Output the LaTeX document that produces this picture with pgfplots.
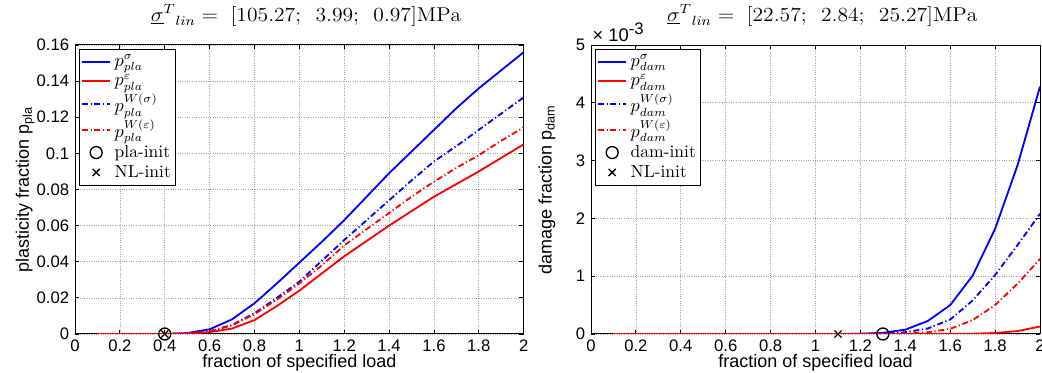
\documentclass[border=0pt]{standalone}
\usepackage{fontspec}
\setsansfont{Liberation Sans}
\usepackage{graphicx}
\usepackage{pgfplots}
\pgfplotsset{compat=1.18}
\definecolor{mblue}{RGB}{0,0,255}
\definecolor{mred}{RGB}{255,0,0}
\pgfplotsset{
  mstyle/.style={
    scale only axis, width=269.2pt, height=173.4pt,
    xmin=0, xmax=2,
    xtick={0,0.2,0.4,0.6,0.8,1,1.2,1.4,1.6,1.8,2},
    grid=major,
    major grid style={densely dotted, gray!70, line width=0.4pt},
    tick align=inside, major tick length=2.6pt,
    tick style={black, line width=0.5pt},
    axis line style={line width=0.6pt},
    clip mode=individual,
    /pgf/number format/assume math mode=true,
    tick label style={font=\sffamily\fontsize{10}{11}\selectfont},
    label style={font=\sffamily\fontsize{10.8}{12}\selectfont},
    xlabel style={at={(axis description cs:0.5,-0.1)}, anchor=center},
    title style={at={(axis description cs:0.515,1.048)}, anchor=base, yshift=0pt, font=\fontsize{12}{14}\selectfont},
    scaled y ticks=false,
    legend style={at={(axis description cs:0.009,0.986)}, anchor=north west,
      font=\fontsize{10.5}{11}\selectfont, draw=black,
      inner xsep=1pt, inner ysep=1.2pt, row sep=-0.8pt, cells={anchor=west}},
    legend cell align=left,
  },
  bs/.style={color=mblue, line width=1.1pt, solid},
  rs/.style={color=mred, line width=1.1pt, solid},
  bd/.style={color=mblue, line width=1.1pt, dash pattern=on 3.6pt off 1.6pt on 0.7pt off 1.6pt},
  rd/.style={color=mred, line width=1.1pt, dash pattern=on 3.6pt off 1.6pt on 0.7pt off 1.6pt},
}
\newcommand{\ttl}[3]{\scalebox{1.08}[1]{${\underline{\sigma}^{T}}_{lin} =\hspace{0.3em}[#1;\hspace{0.5em}#2;\hspace{0.5em}#3]\mathrm{MPa}$}}
\begin{document}
\begin{tikzpicture}
\useasboundingbox (-45pt,-23.4pt) rectangle (580.2pt,200.4pt);
\begin{axis}[mstyle,
  ymin=0, ymax=0.16,
  ytick={0,0.02,0.04,0.06,0.08,0.1,0.12,0.14,0.16},
  yticklabel style={/pgf/number format/fixed, /pgf/number format/precision=2},
  xlabel={fraction of specified load},
  ylabel={plasticity fraction p\textsubscript{pla}},
  ylabel style={at={(axis description cs:-0.111,0.5)}, anchor=center},
  title={\ttl{105.27}{3.99}{0.97}},
]
\addplot[bs] coordinates {(0.1,0)(0.2,0)(0.3,0)(0.4,0)(0.5,0.0005)(0.6,0.0026)(0.7,0.0081)(0.8,0.017)(0.9,0.028)(1.0,0.0395)(1.1,0.051)(1.2,0.063)(1.3,0.076)(1.4,0.089)(1.5,0.101)(1.6,0.113)(1.7,0.125)(1.8,0.136)(1.9,0.146)(2.0,0.156)};
\addlegendentry{$p_{pla}^{\sigma}$}
\addplot[rs] coordinates {(0.1,0)(0.2,0)(0.3,0)(0.4,0)(0.5,0.0002)(0.6,0.001)(0.7,0.003)(0.8,0.0077)(0.9,0.0155)(1.0,0.024)(1.1,0.0335)(1.2,0.043)(1.3,0.0515)(1.4,0.060)(1.5,0.068)(1.6,0.076)(1.7,0.083)(1.8,0.090)(1.9,0.0975)(2.0,0.105)};
\addlegendentry{$p_{pla}^{\varepsilon}$}
\addplot[bd] coordinates {(0.1,0)(0.2,0)(0.3,0)(0.4,0)(0.5,0.0003)(0.6,0.0015)(0.7,0.005)(0.8,0.0115)(0.9,0.020)(1.0,0.029)(1.1,0.0405)(1.2,0.052)(1.3,0.063)(1.4,0.074)(1.5,0.085)(1.6,0.0955)(1.7,0.104)(1.8,0.113)(1.9,0.122)(2.0,0.131)};
\addlegendentry{$p_{pla}^{W(\sigma)}$}
\addplot[rd] coordinates {(0.1,0)(0.2,0)(0.3,0)(0.4,0)(0.5,0.0003)(0.6,0.0014)(0.7,0.0048)(0.8,0.011)(0.9,0.019)(1.0,0.028)(1.1,0.038)(1.2,0.049)(1.3,0.058)(1.4,0.067)(1.5,0.076)(1.6,0.0843)(1.7,0.092)(1.8,0.099)(1.9,0.107)(2.0,0.1144)};
\addlegendentry{$p_{pla}^{W(\varepsilon)}$}
\addplot[only marks, mark=o, mark size=3.6pt, black, line width=0.8pt] coordinates {(0.4,0)};
\addlegendentry{pla-init}
\addplot[only marks, mark=x, mark size=3pt, black, line width=0.8pt] coordinates {(0.4,0)};
\addlegendentry{NL-init}
\end{axis}
\begin{axis}[mstyle, at={(309.6pt,0)}, width=269.4pt,
  ymin=0, ymax=5,
  ytick={0,1,2,3,4,5},
  xlabel={fraction of specified load},
  ylabel={damage fraction p\textsubscript{dam}},
  ylabel style={at={(axis description cs:-0.098,0.5)}, anchor=center},
  title={\ttl{22.57}{2.84}{25.27}},
]
\addplot[bs] coordinates {(0.1,0)(0.2,0)(0.3,0)(0.4,0)(0.5,0)(0.6,0)(0.7,0)(0.8,0)(0.9,0)(1.0,0)(1.1,0.001)(1.2,0.005)(1.3,0.02)(1.4,0.075)(1.5,0.225)(1.6,0.5)(1.7,1.01)(1.8,1.82)(1.9,2.92)(2.0,4.28)};
\addlegendentry{$p_{dam}^{\sigma}$}
\addplot[rs] coordinates {(0.1,0)(0.2,0)(0.3,0)(0.4,0)(0.5,0)(0.6,0)(0.7,0)(0.8,0)(0.9,0)(1.0,0)(1.1,0)(1.2,0)(1.3,0)(1.4,0)(1.5,0.001)(1.6,0.002)(1.7,0.005)(1.8,0.017)(1.9,0.05)(2.0,0.13)};
\addlegendentry{$p_{dam}^{\varepsilon}$}
\addplot[bd] coordinates {(0.1,0)(0.2,0)(0.3,0)(0.4,0)(0.5,0)(0.6,0)(0.7,0)(0.8,0)(0.9,0)(1.0,0)(1.1,0)(1.2,0.002)(1.3,0.008)(1.4,0.03)(1.5,0.095)(1.6,0.25)(1.7,0.58)(1.8,1.02)(1.9,1.54)(2.0,2.08)};
\addlegendentry{$p_{dam}^{W(\sigma)}$}
\addplot[rd] coordinates {(0.1,0)(0.2,0)(0.3,0)(0.4,0)(0.5,0)(0.6,0)(0.7,0)(0.8,0)(0.9,0)(1.0,0)(1.1,0)(1.2,0)(1.3,0.002)(1.4,0.006)(1.5,0.028)(1.6,0.09)(1.7,0.24)(1.8,0.50)(1.9,0.87)(2.0,1.30)};
\addlegendentry{$p_{dam}^{W(\varepsilon)}$}
\addplot[only marks, mark=o, mark size=3.6pt, black, line width=0.8pt] coordinates {(1.3,0)};
\addlegendentry{dam-init}
\addplot[only marks, mark=x, mark size=3pt, black, line width=0.8pt] coordinates {(1.1,0)};
\addlegendentry{NL-init}
\node[anchor=south west, inner sep=0pt, font=\sffamily\fontsize{11}{12}\selectfont] at (rel axis cs:0.003,1.012) {× 10\textsuperscript{\fontsize{10}{10}\selectfont -3}};
\end{axis}
\end{tikzpicture}
\end{document}
